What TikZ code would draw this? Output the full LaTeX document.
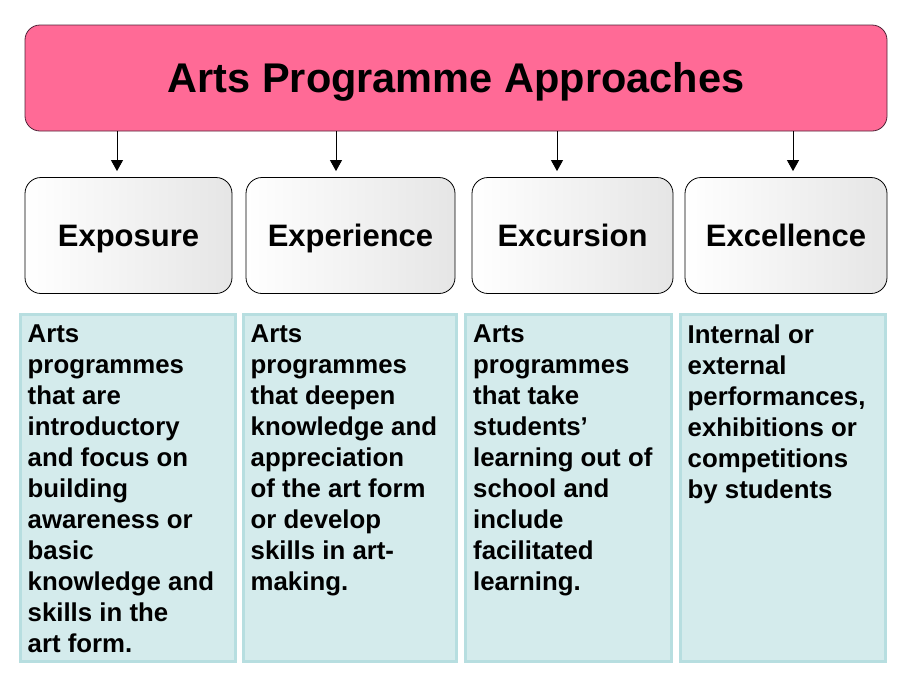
\documentclass[tikz,border=0pt]{standalone}
\usepackage{fontspec}
\setmainfont{Liberation Sans}
\usepackage{xcolor}
\usepackage{tikz}
\usetikzlibrary{arrows.meta, positioning}

\definecolor{titlepink}{RGB}{255,106,150}
\definecolor{titleline}{RGB}{80,35,55}
\definecolor{descfill}{RGB}{212,235,236}
\definecolor{descline}{RGB}{183,222,224}

\tikzset{
	titlebox/.style={shape=rectangle, rounded corners=15pt, draw=titleline, line width=0.8pt, fill=titlepink, text height=30pt, text depth=1.5pt, font=\fontsize{41.5}{48}\selectfont\bfseries},
	kindbox/.style={shape=rectangle, rounded corners=16pt, draw=black, line width=0.8pt, left color=white, right color=black!10, minimum height=116pt, text height=27pt, text depth=6pt, font=\fontsize{31}{36}\selectfont\bfseries},
	descbox/.style={shape=rectangle, draw=descline, fill=descfill, line width=3pt, minimum height=347pt},
	desctext/.style={anchor=north west, inner sep=0pt, align=left, font=\fontsize{25.8}{31}\selectfont\bfseries},
	arr/.style={-{Triangle[width=12pt, length=11pt]}, line width=0.8pt}
}

\begin{document}
\begin{tikzpicture}[x=1pt, y=-1pt]
	% Frame:
	\useasboundingbox (0, 0) rectangle (913, 689);
	% Title:
	\node[titlebox, minimum width=862pt, minimum height=106pt](title) at (456, 78){Arts Programme Approaches};
	% Approaches:
	\node[kindbox, minimum width=207pt](k1) at (128.5, 235.5){Exposure};
	\node[kindbox, minimum width=209pt](k2) at (350.5, 235.5){Experience};
	\node[kindbox, minimum width=201pt](k3) at (572.5, 235.5){Excursion};
	\node[kindbox, minimum width=202pt](k4) at (786, 235.5){Excellence};
	% Arrows:
	\draw[arr] ([xshift=-11.5pt]k1.north |- title.south) -- ([xshift=-11.5pt, yshift=6pt]k1.north);
	\draw[arr] ([xshift=-14.5pt]k2.north |- title.south) -- ([xshift=-14.5pt, yshift=6pt]k2.north);
	\draw[arr] ([xshift=-15.5pt]k3.north |- title.south) -- ([xshift=-15.5pt, yshift=6pt]k3.north);
	\draw[arr] ([xshift=7pt]k4.north |- title.south) -- ([xshift=7pt, yshift=6pt]k4.north);
	% Descriptions:
	\node[descbox, minimum width=215pt](d1) at (127.5, 488){};
	\node[descbox, minimum width=213pt](d2) at (349.5, 488){};
	\node[descbox, minimum width=206pt](d3) at (568.5, 488){};
	\node[descbox, minimum width=205pt](d4) at (782.5, 488){};
	\node[desctext](t1) at ([xshift=9pt, yshift=-12pt]d1.north west){Arts\\programmes\\that are\\introductory\\and focus on\\building\\awareness or\\basic\\knowledge and\\skills in the\\art form.};
	\node[desctext](t2) at ([xshift=9pt, yshift=-12pt]d2.north west){Arts\\programmes\\that deepen\\knowledge and\\appreciation\\of the art form\\or develop\\skills in art-\\making.};
	\node[desctext](t3) at ([xshift=9pt, yshift=-12pt]d3.north west){Arts\\programmes\\that take\\students’\\learning out of\\school and\\include\\facilitated\\learning.};
	\node[desctext](t4) at ([xshift=9pt, yshift=-12pt]d4.north west){Internal or\\external\\performances,\\exhibitions or\\competitions\\by students};
\end{tikzpicture}
\end{document}
